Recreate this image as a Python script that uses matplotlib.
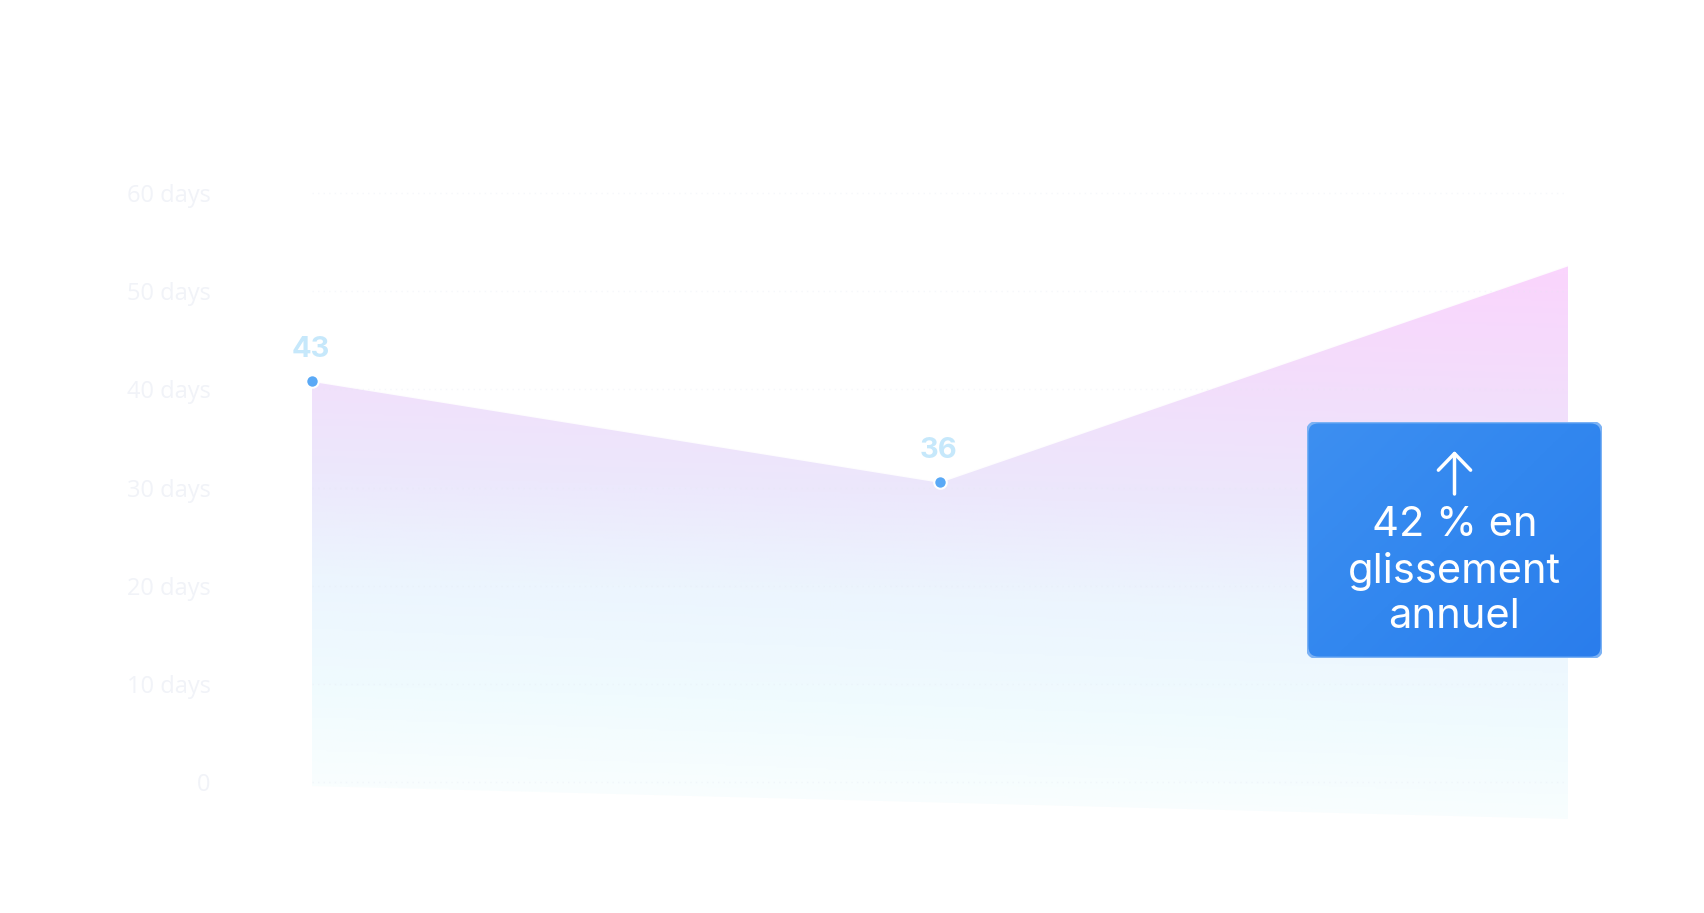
import numpy as np
import matplotlib
matplotlib.use("Agg")
from matplotlib import pyplot as plt
from matplotlib.colors import LinearSegmentedColormap
from matplotlib.patches import FancyBboxPatch, Polygon

# data
periods = [0, 1, 2]
values = [43, 36, 51]
show_label = [True, True, False]
day_ticks = [0, 10, 20, 30, 40, 50, 60]
day_labels = ["0", "10 days", "20 days", "30 days", "40 days", "50 days", "60 days"]
badge_text = "42 % en\nglissement\nannuel"

W, H = 1704, 913
fig = plt.figure(figsize=(W / 100, H / 100), dpi=100)
fig.patch.set_facecolor("white")

# axes box in pixels: x 312..1568, y 150..850 (from top)
ax = fig.add_axes([312 / W, (H - 850) / H, 1256 / W, 700 / H])
ax.set_xlim(0, 2)
d_lo, d_hi = 43 - (850 - 381) / 14.43, 43 + (381 - 150) / 14.43
ax.axis("off")

# gradient area
grad = LinearSegmentedColormap.from_list("area", [
    (0.00, "#fad5fd"),
    (0.24, "#f2dffb"),
    (0.44, "#ece8fc"),
    (0.62, "#ecf5fe"),
    (0.82, "#f0fbfe"),
    (1.00, "#f9fefe"),
])
nx, ny = 400, 400
xs = np.linspace(0, 2, nx)
ypx = np.linspace(150, 850, ny)
XX, YY = np.meshgrid(xs, ypx)
tilt = YY - 0.035 * (XX / 2 * 1256)
t = np.clip((tilt - 230) / (786 - 230), 0, 1)
ax.imshow(t, cmap=grad, vmin=0, vmax=1, extent=(0, 2, d_lo, d_hi),
          aspect="auto", interpolation="bilinear", zorder=1)
ax.set_ylim(d_lo, d_hi)

bot_left = 43 - (786 - 381) / 14.43
bot_right = 43 - (819 - 381) / 14.43
poly = Polygon(list(zip(periods, values)) + [(2, bot_right), (0, bot_left)],
               closed=True, facecolor="none", edgecolor="none",
               transform=ax.transData)
ax.add_patch(poly)
ax.images[0].set_clip_path(poly)

ax.plot(periods, values, color="white", lw=1.2, alpha=0.9, zorder=2)

for x, v, show in zip(periods, values, show_label):
    if not show:
        continue
    ax.plot(x, v, "o", ms=9, mfc="#5aa9f6", mec="white", mew=1.5,
            zorder=4, clip_on=False)
    ax.annotate(str(v), (x, v), xytext=(-1, 17), textcoords="offset points",
                ha="center", va="baseline", fontsize=21, fontweight="bold",
                family="Inter", color="#c6e8fb", zorder=5)

# day scale with faint labels and dotted grid
ax2 = ax.twinx()
ax2.set_ylim(60 * (782 - 850) / 589, 60 * (782 - 150) / 589)
ax2.yaxis.tick_left()
ax2.set_yticks(day_ticks)
ax2.set_yticklabels(day_labels, family="Open Sans", fontsize=17, color="#f1f3f8")
ax2.tick_params(axis="y", length=0, pad=73)
ax2.tick_params(axis="x", bottom=False, labelbottom=False)
for s in ax2.spines.values():
    s.set_visible(False)
ax2.patch.set_alpha(0)
ax2.grid(axis="y", color="#e3e8f2", lw=1, linestyle=(0, (1, 3)), alpha=0.3)
ax2.set_axisbelow(False)

# badge
bx = fig.add_axes([1307 / W, (H - 658) / H, 295 / W, 236 / H])
bx.set_xlim(0, 1)
bx.set_ylim(0, 1)
bx.axis("off")
badge_cmap = LinearSegmentedColormap.from_list("badge", ["#3d8ff1", "#3287ef", "#2a7dec"])
gx, gy = np.meshgrid(np.linspace(0, 1, 200), np.linspace(1, 0, 200))
bg = bx.imshow(0.55 * gx + 0.45 * (1 - gy), cmap=badge_cmap, extent=(0, 1, 0, 1),
               aspect="auto", zorder=1)
frame = FancyBboxPatch((0, 0), 1, 1, boxstyle="round,pad=0,rounding_size=0.04",
                       mutation_aspect=295 / 236, transform=bx.transAxes,
                       facecolor="none", edgecolor="#7cb2f4", lw=2, zorder=2)
bx.add_patch(frame)
bg.set_clip_path(frame)
bx.annotate("", xy=(0.5, (658 - 451) / 236), xytext=(0.5, (658 - 494) / 236),
            arrowprops=dict(arrowstyle="->,head_length=0.6,head_width=0.58",
                            color="white", lw=2.5, mutation_scale=20,
                            shrinkA=0, shrinkB=0), zorder=3)
bx.text(0.5, (658 - 571) / 236, badge_text, ha="center", va="center",
        fontsize=30, family="Inter", color="white", linespacing=1.25, zorder=3)

fig.savefig("out.png", dpi=100, facecolor="white")
